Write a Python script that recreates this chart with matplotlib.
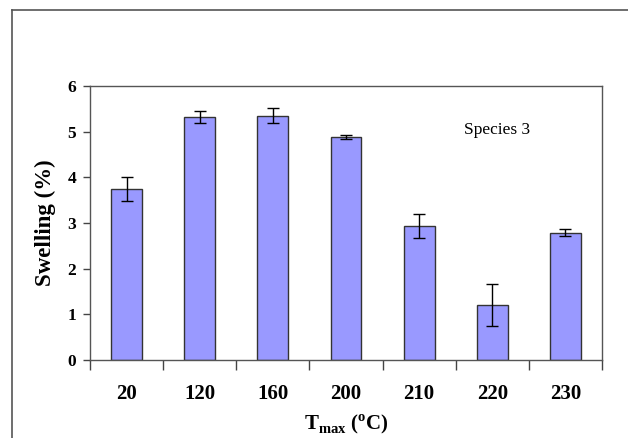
import matplotlib
matplotlib.use("Agg")
import matplotlib.pyplot as plt
from matplotlib.lines import Line2D
import numpy as np

plt.rcParams['font.family'] = ['Liberation Serif', 'DejaVu Serif']
plt.rcParams['mathtext.fontset'] = 'custom'
plt.rcParams['mathtext.rm'] = 'Liberation Serif'
plt.rcParams['mathtext.bf'] = 'Liberation Serif:bold'

# data
temps = ['20', '120', '160', '200', '210', '220', '230']
swelling = [3.75, 5.33, 5.35, 4.88, 2.93, 1.20, 2.79]
errors = [0.26, 0.13, 0.16, 0.04, 0.26, 0.46, 0.08]

fig = plt.figure(figsize=(6.28, 4.38), dpi=100)
W, H = 628, 438
ax = fig.add_axes([90 / W, 1 - 360 / H, 512 / W, 274 / H])

x = np.arange(len(temps))
ax.bar(x, swelling, width=0.42, color='#9999ff', edgecolor='#333333',
       linewidth=1.0, zorder=2)
ax.errorbar(x, swelling, yerr=errors, fmt='none', ecolor='black',
            elinewidth=1.0, capsize=4.5, capthick=1.0, zorder=3)

ax.set_xlim(-0.5, len(temps) - 0.5)
ax.set_ylim(0, 6)
ax.set_yticks(range(0, 7))
ax.set_xticks(np.arange(-0.5, len(temps)))
ax.set_xticklabels([])
ax.set_xticks(x, minor=True)
ax.set_xticklabels(temps, minor=True, fontsize=15, fontweight='bold')
ax.tick_params(axis='x', which='major', direction='out', length=7,
               width=1, color='#444444')
ax.tick_params(axis='x', which='minor', length=0, pad=17)
ax.tick_params(axis='y', direction='out', length=5, width=1,
               color='#444444', pad=5, labelsize=12.5)
for lab in ax.get_yticklabels():
    lab.set_fontweight('bold')

for s in ax.spines.values():
    s.set_color('#555555')
    s.set_linewidth(1.0)

ax.set_ylabel('Swelling (%)', fontsize=16.5, fontweight='bold', va='center')
ax.yaxis.set_label_coords(-45 / 512, 0.5)
ax.set_xlabel(r'T$_{\mathbf{max}}$ ($^{\mathbf{o}}$C)', fontsize=15,
              fontweight='bold', va='center')
ax.xaxis.set_label_coords(0.5, -64 / 274)

ax.text(0.73, 0.84, 'Species 3', transform=ax.transAxes, fontsize=12.5,
        ha='left', va='center')

# outer frame (cropped at right and bottom)
fig.add_artist(Line2D([12 / W, 12 / W], [0, 1 - 10 / H], color='#555555',
                      linewidth=1.2, transform=fig.transFigure))
fig.add_artist(Line2D([12 / W, 1], [1 - 10 / H, 1 - 10 / H], color='#555555',
                      linewidth=1.2, transform=fig.transFigure))

fig.savefig('out.png', dpi=100)
